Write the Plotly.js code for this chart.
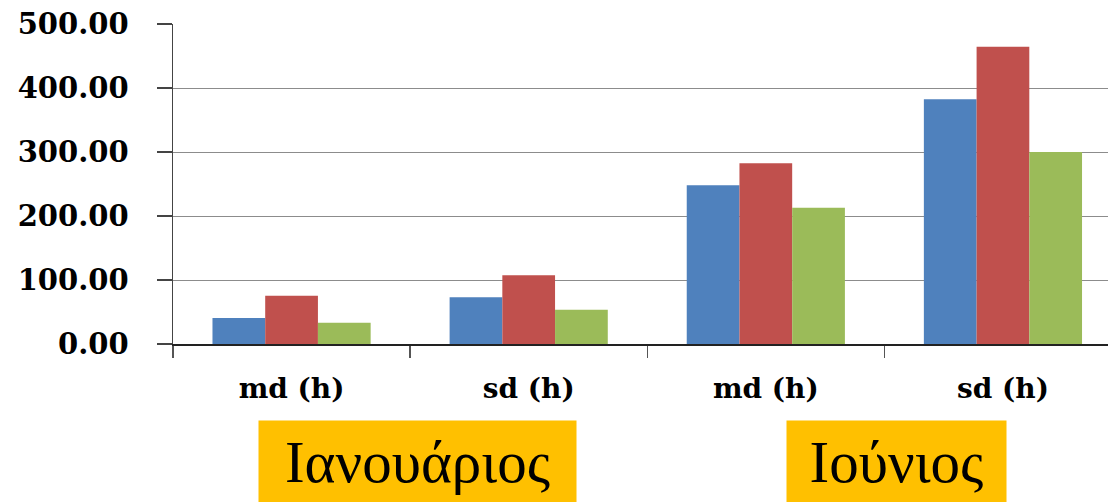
<!DOCTYPE html>
<html>
<head>
<meta charset="utf-8">
<script src="https://cdn.plot.ly/plotly-3.0.1.min.js"></script>
<style>
  html, body { margin: 0; padding: 0; background: #ffffff; overflow: hidden; }
  #chart { width: 1108px; height: 502px; }
</style>
</head>
<body>
<div id="chart"></div>
<script>
// Measures shown under each bar group, and the month each group belongs to
const measures = ['md (h)', 'sd (h)', 'md (h)', 'sd (h)'];
const months = ['Ιανουάριος', 'Ιανουάριος', 'Ιούνιος', 'Ιούνιος'];
const monthLabels = ['Ιανουάριος', 'Ιούνιος'];

// Three series, one value per group
const seriesBlue = [40.6, 73.0, 248.0, 382.3];
const seriesRed = [75.5, 107.3, 282.3, 464.5];
const seriesGreen = [33.3, 53.6, 213.0, 300.0];

// y tick values
const yTicks = [0, 100, 200, 300, 400, 500];

// Unique category keys (month + measure) so repeated measure names stay separate
const keys = measures.map((m, i) => months[i] + ' · ' + m);

const colors = ['#4F81BD', '#C0504D', '#9BBB59'];
const traces = [seriesBlue, seriesRed, seriesGreen].map((vals, i) => ({
  type: 'bar',
  x: keys,
  y: vals,
  marker: { color: colors[i], line: { width: 0 } },
  hoverinfo: 'skip'
}));

const layout = {
  width: 1108,
  height: 502,
  margin: { l: 173, r: 0, t: 24, b: 158 },
  paper_bgcolor: '#ffffff',
  plot_bgcolor: '#ffffff',
  showlegend: false,
  barmode: 'group',
  bargap: 0.333,
  bargroupgap: 0,
  xaxis: {
    type: 'category',
    categoryorder: 'array',
    categoryarray: keys,
    tickmode: 'array',
    tickvals: keys,
    ticktext: measures,
    tickson: 'boundaries',
    ticks: 'outside',
    ticklen: 12,
    tickwidth: 1.5,
    tickcolor: '#555555',
    showline: true,
    linecolor: '#222222',
    linewidth: 1.5,
    showgrid: false,
    range: [-0.5, 3.443],
    tickfont: { family: 'DejaVu Serif', size: 28, color: '#000000', weight: 'bold' },
    ticklabelstandoff: 19
  },
  yaxis: {
    range: [0, 500],
    tickmode: 'array',
    tickvals: yTicks,
    tickformat: '.2f',
    ticks: 'outside',
    ticklen: 15,
    tickwidth: 1.5,
    tickcolor: '#444444',
    showline: true,
    linecolor: '#444444',
    linewidth: 1.5,
    showgrid: true,
    gridcolor: '#8c8c8c',
    gridwidth: 1,
    zeroline: false,
    tickfont: { family: 'DejaVu Serif', size: 29, color: '#000000', weight: 'bold' },
    ticklabelstandoff: 22
  },
  annotations: [
    {
      text: monthLabels[0],
      xref: 'x', x: 0.53,
      yref: 'paper', y: -0.2375,
      xanchor: 'center', yanchor: 'top',
      showarrow: false,
      bgcolor: '#FFC000',
      borderpad: 0,
      width: 317,
      height: 82,
      valign: 'middle',
      font: { family: 'Liberation Serif', size: 59, color: '#000000' }
    },
    {
      text: monthLabels[1],
      xref: 'x', x: 2.55,
      yref: 'paper', y: -0.2375,
      xanchor: 'center', yanchor: 'top',
      showarrow: false,
      bgcolor: '#FFC000',
      borderpad: 0,
      width: 219,
      height: 82,
      valign: 'middle',
      font: { family: 'Liberation Serif', size: 59, color: '#000000' }
    }
  ]
};

Plotly.newPlot('chart', traces, layout, { displayModeBar: false, staticPlot: true });
</script>
</body>
</html>
